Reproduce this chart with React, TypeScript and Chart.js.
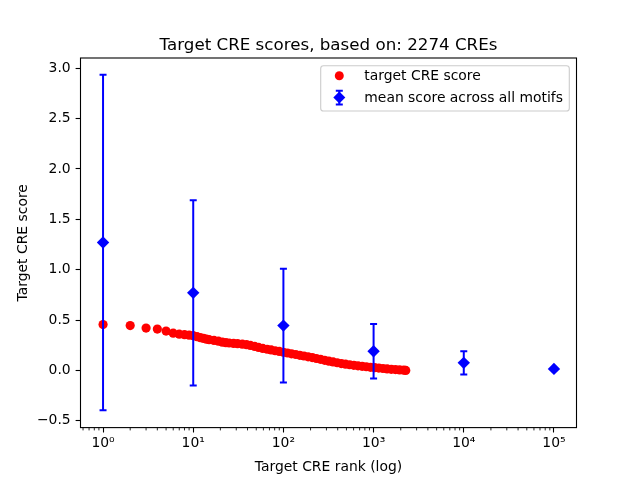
import { useEffect, useRef } from 'react';
import Chart from 'chart.js/auto';

const TITLE = 'Target CRE scores, based on: 2274 CREs';
const X_LABEL = 'Target CRE rank (log)';
const Y_LABEL = 'Target CRE score';
const SCORE_LABEL = 'target CRE score';
const MEAN_LABEL = 'mean score across all motifs';

const creRanks = [
  1, 2, 3, 4, 5, 6, 7, 8, 9, 10, 11, 12, 13, 14, 15, 17, 19, 21, 23, 25, 28, 31, 35, 39, 43, 48, 53,
  59, 66, 73, 81, 90, 100, 111, 123, 137, 152, 169, 188, 209, 232, 258, 287, 319, 355, 395, 439, 488,
  543, 604, 672, 747, 831, 924, 1028, 1143, 1271, 1413, 1571, 1747, 1943, 2160, 2274,
];
const creScores = [
  0.455, 0.445, 0.42, 0.41, 0.39, 0.37, 0.36, 0.355, 0.35, 0.345, 0.335, 0.325, 0.318, 0.31, 0.305,
  0.298, 0.29, 0.28, 0.275, 0.272, 0.268, 0.265, 0.26, 0.255, 0.248, 0.238, 0.228, 0.218, 0.21, 0.203,
  0.195, 0.188, 0.18, 0.173, 0.165, 0.158, 0.15, 0.143, 0.135, 0.127, 0.118, 0.11, 0.1, 0.092, 0.084,
  0.076, 0.068, 0.062, 0.056, 0.05, 0.045, 0.04, 0.036, 0.031, 0.027, 0.023, 0.019, 0.015, 0.011,
  0.008, 0.005, 0.002, 0.0,
];

const motifRanks = [1, 10, 100, 1000, 10000, 100000];
const motifMeans = [1.27, 0.77, 0.445, 0.19, 0.075, 0.015];
const motifErrors = [1.665, 0.92, 0.565, 0.27, 0.115, 0];

const xTickValues = [1, 10, 100, 1000, 10000, 100000];
const xTickLabels = ['10⁰', '10¹', '10²', '10³', '10⁴', '10⁵'];
const yTickValues = [-0.5, 0, 0.5, 1, 1.5, 2, 2.5, 3];
const yTickLabels = ['−0.5', '0.0', '0.5', '1.0', '1.5', '2.0', '2.5', '3.0'];

const X_MIN = Math.pow(10, -0.25);
const X_MAX = Math.pow(10, 5.25);
const Y_MIN = -0.568;
const Y_MAX = 3.102;

const FONT = '"DejaVu Sans", sans-serif';
const FS = 13.9;
const BLUE = '#0000ff';
const RED = '#ff0000';

const decorPlugin = {
  id: 'decor',
  afterDatasetDraw(chart: any, args: any) {
    if (args.index !== 1) return;
    const ctx = chart.ctx;
    const xs = chart.scales.x;
    const ys = chart.scales.y;
    const a = chart.chartArea;
    ctx.save();
    ctx.beginPath();
    ctx.rect(a.left, a.top, a.right - a.left, a.bottom - a.top);
    ctx.clip();
    ctx.strokeStyle = BLUE;
    ctx.lineWidth = 2;
    for (let i = 0; i < motifRanks.length; i++) {
      const e = motifErrors[i];
      if (!e) continue;
      const x = xs.getPixelForValue(motifRanks[i]);
      const yT = ys.getPixelForValue(motifMeans[i] + e);
      const yB = ys.getPixelForValue(motifMeans[i] - e);
      ctx.beginPath();
      ctx.moveTo(x, yT);
      ctx.lineTo(x, yB);
      ctx.moveTo(x - 3.5, yT);
      ctx.lineTo(x + 3.5, yT);
      ctx.moveTo(x - 3.5, yB);
      ctx.lineTo(x + 3.5, yB);
      ctx.stroke();
    }
    ctx.restore();
  },
  afterDraw(chart: any) {
    const ctx = chart.ctx;
    const a = chart.chartArea;
    const xs = chart.scales.x;
    ctx.save();
    // frame
    ctx.strokeStyle = '#000';
    ctx.lineWidth = 1.1;
    ctx.strokeRect(a.left, a.top, a.right - a.left, a.bottom - a.top);
    // minor x ticks
    ctx.lineWidth = 0.85;
    for (let k = -1; k <= 5; k++) {
      for (let m = 2; m <= 9; m++) {
        const v = m * Math.pow(10, k);
        if (v < X_MIN || v > X_MAX) continue;
        const px = xs.getPixelForValue(v);
        ctx.beginPath();
        ctx.moveTo(px, a.bottom);
        ctx.lineTo(px, a.bottom + 2.8);
        ctx.stroke();
      }
    }
    // title
    ctx.fillStyle = '#000';
    ctx.font = `16.7px ${FONT}`;
    ctx.textAlign = 'center';
    ctx.textBaseline = 'alphabetic';
    ctx.fillText(TITLE, (a.left + a.right) / 2, a.top - 8.3);
    // legend
    const lx = 320.7, ly = 65.7, lw = 248.6, lh = 45.3, r = 2.8;
    ctx.beginPath();
    ctx.moveTo(lx + r, ly);
    ctx.lineTo(lx + lw - r, ly);
    ctx.quadraticCurveTo(lx + lw, ly, lx + lw, ly + r);
    ctx.lineTo(lx + lw, ly + lh - r);
    ctx.quadraticCurveTo(lx + lw, ly + lh, lx + lw - r, ly + lh);
    ctx.lineTo(lx + r, ly + lh);
    ctx.quadraticCurveTo(lx, ly + lh, lx, ly + lh - r);
    ctx.lineTo(lx, ly + r);
    ctx.quadraticCurveTo(lx, ly, lx + r, ly);
    ctx.closePath();
    ctx.fillStyle = 'rgba(255,255,255,0.8)';
    ctx.fill();
    ctx.strokeStyle = '#cccccc';
    ctx.lineWidth = 1.1;
    ctx.stroke();
    // red marker
    ctx.fillStyle = RED;
    ctx.beginPath();
    ctx.arc(339.3, 75.7, 4.5, 0, Math.PI * 2);
    ctx.fill();
    // blue errorbar marker
    ctx.strokeStyle = BLUE;
    ctx.lineWidth = 2;
    ctx.beginPath();
    ctx.moveTo(339.3, 90.8);
    ctx.lineTo(339.3, 104.4);
    ctx.moveTo(335.8, 90.8);
    ctx.lineTo(342.8, 90.8);
    ctx.moveTo(335.8, 104.4);
    ctx.lineTo(342.8, 104.4);
    ctx.stroke();
    ctx.fillStyle = BLUE;
    ctx.beginPath();
    ctx.moveTo(339.3 - 6, 97.6);
    ctx.lineTo(339.3, 97.6 - 6);
    ctx.lineTo(339.3 + 6, 97.6);
    ctx.lineTo(339.3, 97.6 + 6);
    ctx.closePath();
    ctx.fill();
    // legend texts
    ctx.fillStyle = '#000';
    ctx.font = `${FS}px ${FONT}`;
    ctx.textAlign = 'left';
    ctx.textBaseline = 'middle';
    ctx.fillText(SCORE_LABEL, 364.3, 76.2);
    ctx.fillText(MEAN_LABEL, 364.3, 98.2);
    ctx.restore();
  },
};

export default function App() {
  const ref = useRef<HTMLCanvasElement>(null);
  useEffect(() => {
    if (!ref.current) return;
    const chart = new Chart(ref.current, {
      type: 'scatter',
      data: {
        datasets: [
          {
            label: MEAN_LABEL,
            data: motifRanks.map((r, i) => ({ x: r, y: motifMeans[i] })),
            pointStyle: 'rectRot',
            pointRadius: 6.2,
            backgroundColor: BLUE,
            borderColor: BLUE,
            borderWidth: 0,
            showLine: false,
          },
          {
            label: SCORE_LABEL,
            data: creRanks.map((r, i) => ({ x: r, y: creScores[i] })),
            pointStyle: 'circle',
            pointRadius: 4.6,
            backgroundColor: RED,
            borderColor: RED,
            borderWidth: 0,
            showLine: false,
          },
        ],
      },
      options: {
        animation: false,
        responsive: false,
        maintainAspectRatio: false,
        events: [],
        layout: { padding: { top: 58, right: 63.5, left: 0.5, bottom: 0 } },
        plugins: { legend: { display: false }, title: { display: false }, tooltip: { enabled: false } },
        scales: {
          x: {
            type: 'logarithmic',
            min: X_MIN,
            max: X_MAX,
            afterBuildTicks: (s: any) => {
              s.ticks = xTickValues.map((v) => ({ value: v }));
            },
            afterFit: (s: any) => {
              s.height = 52.4;
            },
            ticks: {
              autoSkip: false,
              maxRotation: 0,
              padding: 3,
              color: '#000',
              font: { family: FONT, size: FS },
              callback: (v: any) => {
                const i = xTickValues.indexOf(Number(v));
                return i >= 0 ? xTickLabels[i] : '';
              },
            },
            grid: { drawOnChartArea: false, drawTicks: true, tickLength: 4.9, tickWidth: 1.1, tickColor: '#000' },
            border: { display: false },
            title: { display: true, text: X_LABEL, color: '#000', font: { family: FONT, size: FS }, padding: { top: 0, bottom: 4 } },
          },
          y: {
            type: 'linear',
            min: Y_MIN,
            max: Y_MAX,
            afterBuildTicks: (s: any) => {
              s.ticks = yTickValues.map((v) => ({ value: v }));
            },
            afterFit: (s: any) => {
              s.width = 80;
            },
            ticks: {
              autoSkip: false,
              padding: 4.9,
              color: '#000',
              font: { family: FONT, size: FS },
              callback: (v: any) => {
                const i = yTickValues.indexOf(Number(v));
                return i >= 0 ? yTickLabels[i] : '';
              },
            },
            grid: { drawOnChartArea: false, drawTicks: true, tickLength: 4.9, tickWidth: 1.1, tickColor: '#000' },
            border: { display: false },
            title: { display: true, text: Y_LABEL, color: '#000', font: { family: FONT, size: FS }, padding: { top: 15, bottom: 0 } },
          },
        },
      },
      plugins: [decorPlugin],
    } as any);
    return () => chart.destroy();
  }, []);
  return (
    <div style={{ position: 'fixed', left: 0, top: 0, width: 640, height: 480, background: '#fff' }}>
      <canvas ref={ref} width={640} height={480} style={{ display: 'block', width: 640, height: 480 }} />
    </div>
  );
}
